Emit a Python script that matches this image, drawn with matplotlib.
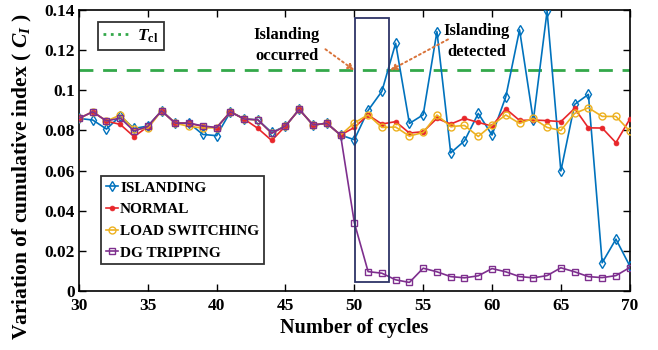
import matplotlib
matplotlib.use("Agg")
import matplotlib.pyplot as plt
from matplotlib.lines import Line2D
from matplotlib.patches import Rectangle
from matplotlib.ticker import FuncFormatter

plt.rcParams['font.family'] = ['Liberation Serif', 'DejaVu Serif']
plt.rcParams['font.weight'] = 'bold'
plt.rcParams['mathtext.fontset'] = 'custom'
plt.rcParams['mathtext.rm'] = 'Liberation Serif:bold'
plt.rcParams['mathtext.it'] = 'Liberation Serif:italic:bold'
plt.rcParams['mathtext.bf'] = 'Liberation Serif:bold'

cycles = list(range(30, 71))

islanding = [0.0860, 0.0852, 0.0807, 0.0872, 0.0810, 0.0822, 0.0898, 0.0836, 0.0836, 0.0780,
             0.0774, 0.0893, 0.0858, 0.0852, 0.0790, 0.0822, 0.0905, 0.0827, 0.0836, 0.0777,
             0.0754, 0.0900, 0.0995, 0.1235, 0.0835, 0.0878, 0.1293, 0.0688, 0.0748, 0.0885,
             0.0777, 0.0968, 0.1302, 0.0850, 0.1395, 0.0598, 0.0930, 0.0980, 0.0140, 0.0258,
             0.0125]
normal = [0.0860, 0.0893, 0.0847, 0.0830, 0.0769, 0.0819, 0.0898, 0.0836, 0.0836, 0.0820,
          0.0814, 0.0893, 0.0857, 0.0810, 0.0750, 0.0822, 0.0905, 0.0827, 0.0836, 0.0777,
          0.0815, 0.0877, 0.0832, 0.0844, 0.0787, 0.0794, 0.0860, 0.0832, 0.0860, 0.0840,
          0.0822, 0.0908, 0.0850, 0.0852, 0.0849, 0.0844, 0.0910, 0.0813, 0.0812, 0.0739,
          0.0856]
load_switching = [0.0860, 0.0893, 0.0847, 0.0877, 0.0805, 0.0810, 0.0898, 0.0836, 0.0820, 0.0812,
                  0.0814, 0.0893, 0.0857, 0.0852, 0.0786, 0.0822, 0.0905, 0.0827, 0.0836, 0.0777,
                  0.0838, 0.0878, 0.0815, 0.0817, 0.0772, 0.0790, 0.0877, 0.0819, 0.0825, 0.0770,
                  0.0827, 0.0877, 0.0835, 0.0860, 0.0815, 0.0800, 0.0885, 0.0913, 0.0870, 0.0870,
                  0.0797]
dg_tripping = [0.0860, 0.0893, 0.0847, 0.0862, 0.0797, 0.0820, 0.0898, 0.0836, 0.0836, 0.0823,
               0.0814, 0.0893, 0.0857, 0.0853, 0.0786, 0.0822, 0.0905, 0.0827, 0.0836, 0.0777,
               0.0340, 0.0096, 0.0088, 0.0055, 0.0042, 0.0113, 0.0095, 0.0071, 0.0065, 0.0075,
               0.0111, 0.0095, 0.0071, 0.0065, 0.0076, 0.0115, 0.0095, 0.0071, 0.0066, 0.0076,
               0.0116]
threshold = 0.11
series_labels = ['ISLANDING', 'NORMAL', 'LOAD SWITCHING', 'DG TRIPPING']

c_blue = '#0072BD'
c_red = '#E8262A'
c_yellow = '#EDB120'
c_purple = '#7E2F8E'
c_green = '#33A84A'
c_arrow = '#D9733A'
c_box = '#2E3467'

fig = plt.figure(figsize=(6.58, 3.5), dpi=100)
ax = fig.add_axes([0.12, 0.169, 0.837, 0.802])

ax.plot(cycles, [threshold] * len(cycles), '--', color=c_green, lw=2.0, dashes=(5, 3.5), zorder=1)

h1, = ax.plot(cycles, islanding, '-', color=c_blue, lw=1.2, marker='d', ms=5,
              mfc='none', mew=1.0, zorder=3)
h2, = ax.plot(cycles, normal, '-', color=c_red, lw=1.2, marker='o', ms=3.5,
              mfc=c_red, mew=0.5, zorder=4)
h3, = ax.plot(cycles, load_switching, '-', color=c_yellow, lw=1.2, marker='o', ms=5,
              mfc='none', mew=1.0, zorder=5)
h4, = ax.plot(cycles, dg_tripping, '-', color=c_purple, lw=1.2, marker='s', ms=4,
              mfc='none', mew=1.0, zorder=6)

# detection window
ax.add_patch(Rectangle((50.05, 0.0045), 2.45, 0.1315, fill=False, ec=c_box, lw=1.3, zorder=7))

ax.set_xlim(30, 70)
ax.set_ylim(0, 0.14)
ax.set_xticks(range(30, 71, 5))
ax.set_yticks([0, 0.02, 0.04, 0.06, 0.08, 0.1, 0.12, 0.14])
ax.yaxis.set_major_formatter(FuncFormatter(lambda v, p: ('%g' % round(v, 4))))
ax.tick_params(direction='in', length=5, width=1.0, top=True, right=True, labelsize=12.5)
ax.tick_params(axis='x', pad=5)
ax.tick_params(axis='y', pad=3)
for lab in ax.get_xticklabels() + ax.get_yticklabels():
    lab.set_fontweight('bold')
for s in ax.spines.values():
    s.set_linewidth(1.2)

ax.set_xlabel('Number of cycles', fontsize=14.5, fontweight='bold', labelpad=3)
fig.text(0.034, 0.495, r'Variation of cumulative index ( $C_{I}$ )', rotation=90,
         ha='center', va='center', fontsize=15.5, fontweight='bold')

# annotations
ax.text(45.1, 0.1225, 'Islanding\noccurred', ha='center', va='center', fontsize=12,
        fontweight='bold', linespacing=1.4, zorder=8)
ax.annotate('', xy=(50.0, threshold), xytext=(47.9, 0.1205),
            arrowprops=dict(arrowstyle='-|>', color=c_arrow, lw=1.4, linestyle=':',
                            mutation_scale=9, shrinkA=0, shrinkB=0), zorder=8)
ax.text(58.9, 0.1245, 'Islanding\ndetected', ha='center', va='center', fontsize=12,
        fontweight='bold', linespacing=1.4, zorder=8)
ax.annotate('', xy=(52.6, threshold), xytext=(56.8, 0.1254),
            arrowprops=dict(arrowstyle='-|>', color=c_arrow, lw=1.4, linestyle=':',
                            mutation_scale=9, shrinkA=0, shrinkB=0), zorder=8)

# legends
leg_t = ax.legend([Line2D([], [], color=c_green, ls=':', lw=2.0)], [r'$T_{\mathbf{cl}}$'],
                  loc='upper left', bbox_to_anchor=(0.035, 0.957), frameon=True,
                  fancybox=False, edgecolor='black', fontsize=12.5, handlelength=1.6,
                  handletextpad=0.35, borderpad=0.3, borderaxespad=0)
leg_t.get_frame().set_linewidth(1.3)
ax.add_artist(leg_t)

leg = ax.legend([h1, h2, h3, h4], series_labels, loc='lower left',
                bbox_to_anchor=(0.04, 0.095), frameon=True, fancybox=False,
                edgecolor='black', prop={'size': 11, 'weight': 'bold'},
                handlelength=0.8, handletextpad=0.15, labelspacing=0.52,
                borderpad=0.3, borderaxespad=0)
leg.get_frame().set_linewidth(1.3)
leg.set_zorder(9)

fig.savefig('out.png', dpi=100)
